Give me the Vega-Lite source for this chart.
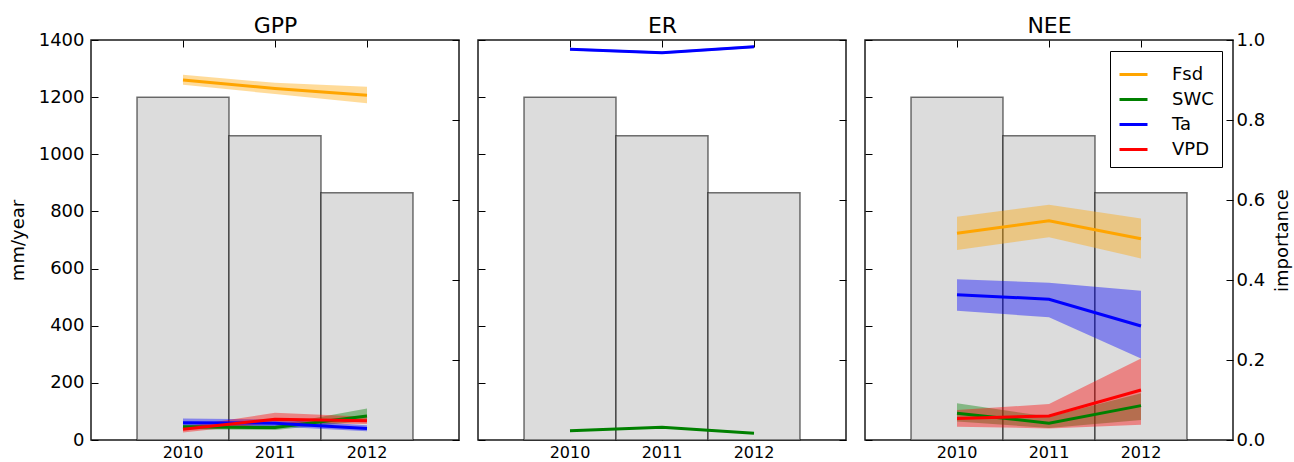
{
  "$schema": "https://vega.github.io/schema/vega-lite/v6.json",
  "padding": {"left": 8, "top": 13, "right": 1, "bottom": 0},
  "config": {
    "font": "DejaVu Sans",
    "view": {"stroke": "#1a1a1a", "strokeWidth": 1.5},
    "axis": {
      "domain": false, "grid": false, "tickSize": -7, "tickColor": "#000", "tickWidth": 1,
      "labelColor": "#000", "titleColor": "#000", "titleFontWeight": "normal",
      "titleFontSize": 18, "labelFontSize": 18
    },
    "axisX": {"labelAngle": 0, "labelFontSize": 16},
    "axisTop": {"titleFontSize": 22, "titlePadding": 7, "titleBaseline": "alphabetic"}
  },
  "datasets": {
    "rain": [
      {"year": 2010, "precip": 1200},
      {"year": 2011, "precip": 1065},
      {"year": 2012, "precip": 865}
    ],
    "imp": [
      {"flux": "GPP", "driver": "Fsd", "year": 2010, "value": 0.900, "lo": 0.888, "hi": 0.913},
      {"flux": "GPP", "driver": "Fsd", "year": 2011, "value": 0.879, "lo": 0.865, "hi": 0.893},
      {"flux": "GPP", "driver": "Fsd", "year": 2012, "value": 0.862, "lo": 0.842, "hi": 0.883},
      {"flux": "GPP", "driver": "SWC", "year": 2010, "value": 0.033, "lo": 0.027, "hi": 0.039},
      {"flux": "GPP", "driver": "SWC", "year": 2011, "value": 0.031, "lo": 0.025, "hi": 0.037},
      {"flux": "GPP", "driver": "SWC", "year": 2012, "value": 0.060, "lo": 0.048, "hi": 0.079},
      {"flux": "GPP", "driver": "Ta", "year": 2010, "value": 0.043, "lo": 0.033, "hi": 0.054},
      {"flux": "GPP", "driver": "Ta", "year": 2011, "value": 0.042, "lo": 0.034, "hi": 0.051},
      {"flux": "GPP", "driver": "Ta", "year": 2012, "value": 0.029, "lo": 0.022, "hi": 0.037},
      {"flux": "GPP", "driver": "VPD", "year": 2010, "value": 0.027, "lo": 0.019, "hi": 0.033},
      {"flux": "GPP", "driver": "VPD", "year": 2011, "value": 0.052, "lo": 0.043, "hi": 0.068},
      {"flux": "GPP", "driver": "VPD", "year": 2012, "value": 0.048, "lo": 0.040, "hi": 0.058},
      {"flux": "ER", "driver": "SWC", "year": 2010, "value": 0.023, "lo": 0.021, "hi": 0.025},
      {"flux": "ER", "driver": "SWC", "year": 2011, "value": 0.032, "lo": 0.030, "hi": 0.034},
      {"flux": "ER", "driver": "SWC", "year": 2012, "value": 0.017, "lo": 0.015, "hi": 0.019},
      {"flux": "ER", "driver": "Ta", "year": 2010, "value": 0.977, "lo": 0.974, "hi": 0.980},
      {"flux": "ER", "driver": "Ta", "year": 2011, "value": 0.968, "lo": 0.965, "hi": 0.971},
      {"flux": "ER", "driver": "Ta", "year": 2012, "value": 0.983, "lo": 0.980, "hi": 0.986},
      {"flux": "NEE", "driver": "Fsd", "year": 2010, "value": 0.517, "lo": 0.475, "hi": 0.558},
      {"flux": "NEE", "driver": "Fsd", "year": 2011, "value": 0.548, "lo": 0.507, "hi": 0.588},
      {"flux": "NEE", "driver": "Fsd", "year": 2012, "value": 0.503, "lo": 0.454, "hi": 0.554},
      {"flux": "NEE", "driver": "SWC", "year": 2010, "value": 0.067, "lo": 0.046, "hi": 0.092},
      {"flux": "NEE", "driver": "SWC", "year": 2011, "value": 0.042, "lo": 0.030, "hi": 0.058},
      {"flux": "NEE", "driver": "SWC", "year": 2012, "value": 0.086, "lo": 0.050, "hi": 0.117},
      {"flux": "NEE", "driver": "Ta", "year": 2010, "value": 0.363, "lo": 0.323, "hi": 0.402},
      {"flux": "NEE", "driver": "Ta", "year": 2011, "value": 0.352, "lo": 0.307, "hi": 0.393},
      {"flux": "NEE", "driver": "Ta", "year": 2012, "value": 0.285, "lo": 0.204, "hi": 0.373},
      {"flux": "NEE", "driver": "VPD", "year": 2010, "value": 0.054, "lo": 0.033, "hi": 0.075},
      {"flux": "NEE", "driver": "VPD", "year": 2011, "value": 0.060, "lo": 0.029, "hi": 0.090},
      {"flux": "NEE", "driver": "VPD", "year": 2012, "value": 0.125, "lo": 0.038, "hi": 0.204}
    ]
  },
  "spacing": 15,
  "resolve": {"scale": {"color": "independent", "fill": "independent"}, "legend": {"color": "independent", "fill": "independent"}},
  "hconcat": [
    {
      "width": 368,
      "height": 400,
      "layer": [
        {
          "data": {"name": "rain"},
          "mark": {"type": "bar", "fill": "#dcdcdc", "stroke": "#000", "strokeOpacity": 0.55, "strokeWidth": 1.5},
          "encoding": {
            "x": {"field": "year", "type": "ordinal", "scale": {"type": "band", "paddingInner": 0, "paddingOuter": 0.5}, "axis": {"orient": "bottom", "title": null, "labelPadding": 11}},
            "y": {"field": "precip", "type": "quantitative", "scale": {"domain": [0, 1400]}, "axis": {"orient": "left", "title": "mm/year", "values": [0, 200, 400, 600, 800, 1000, 1200, 1400], "format": "d", "labelPadding": 14, "titlePadding": 11}}
          }
        },
        {
          "data": {"name": "imp"},
          "transform": [{"filter": "datum.flux === 'GPP'"}],
          "mark": {"type": "area", "fillOpacity": 0.4},
          "encoding": {
            "x": {"field": "year", "type": "ordinal", "scale": {"type": "band", "paddingInner": 0, "paddingOuter": 0.5}, "axis": {"orient": "top", "title": "GPP", "labels": false}},
            "y": {"field": "lo", "type": "quantitative", "scale": {"domain": [0, 1]}, "axis": {"orient": "right", "title": null, "labels": false, "values": [0, 0.2, 0.4, 0.6, 0.8, 1.0]}},
            "y2": {"field": "hi"},
            "fill": {"field": "driver", "type": "nominal", "scale": {"domain": ["Fsd", "SWC", "Ta", "VPD"], "range": ["#FFA500", "#008000", "#0000FF", "#FF0000"]}, "legend": null}
          }
        },
        {
          "data": {"name": "imp"},
          "transform": [{"filter": "datum.flux === 'GPP'"}],
          "mark": {"type": "line", "strokeWidth": 3},
          "encoding": {
            "x": {"field": "year", "type": "ordinal", "scale": {"type": "band", "paddingInner": 0, "paddingOuter": 0.5}, "axis": null},
            "y": {"field": "value", "type": "quantitative", "scale": {"domain": [0, 1]}, "axis": null},
            "color": {"field": "driver", "type": "nominal", "scale": {"domain": ["Fsd", "SWC", "Ta", "VPD"], "range": ["#FFA500", "#008000", "#0000FF", "#FF0000"]}, "legend": null}
          }
        }
      ],
      "resolve": {"scale": {"y": "independent"}, "axis": {"x": "independent", "y": "independent"}}
    },
    {
      "width": 368,
      "height": 400,
      "layer": [
        {
          "data": {"name": "rain"},
          "mark": {"type": "bar", "fill": "#dcdcdc", "stroke": "#000", "strokeOpacity": 0.55, "strokeWidth": 1.5},
          "encoding": {
            "x": {"field": "year", "type": "ordinal", "scale": {"type": "band", "paddingInner": 0, "paddingOuter": 0.5}, "axis": {"orient": "bottom", "title": null, "labelPadding": 11}},
            "y": {"field": "precip", "type": "quantitative", "scale": {"domain": [0, 1400]}, "axis": {"orient": "left", "title": null, "labels": false, "values": [0, 200, 400, 600, 800, 1000, 1200, 1400]}}
          }
        },
        {
          "data": {"name": "imp"},
          "transform": [{"filter": "datum.flux === 'ER'"}],
          "mark": {"type": "area", "fillOpacity": 0.4},
          "encoding": {
            "x": {"field": "year", "type": "ordinal", "scale": {"type": "band", "paddingInner": 0, "paddingOuter": 0.5}, "axis": {"orient": "top", "title": "ER", "labels": false}},
            "y": {"field": "lo", "type": "quantitative", "scale": {"domain": [0, 1]}, "axis": {"orient": "right", "title": null, "labels": false, "values": [0, 0.2, 0.4, 0.6, 0.8, 1.0]}},
            "y2": {"field": "hi"},
            "fill": {"field": "driver", "type": "nominal", "scale": {"domain": ["Fsd", "SWC", "Ta", "VPD"], "range": ["#FFA500", "#008000", "#0000FF", "#FF0000"]}, "legend": null}
          }
        },
        {
          "data": {"name": "imp"},
          "transform": [{"filter": "datum.flux === 'ER'"}],
          "mark": {"type": "line", "strokeWidth": 3},
          "encoding": {
            "x": {"field": "year", "type": "ordinal", "scale": {"type": "band", "paddingInner": 0, "paddingOuter": 0.5}, "axis": null},
            "y": {"field": "value", "type": "quantitative", "scale": {"domain": [0, 1]}, "axis": null},
            "color": {"field": "driver", "type": "nominal", "scale": {"domain": ["Fsd", "SWC", "Ta", "VPD"], "range": ["#FFA500", "#008000", "#0000FF", "#FF0000"]}, "legend": null}
          }
        }
      ],
      "resolve": {"scale": {"y": "independent"}, "axis": {"x": "independent", "y": "independent"}}
    },
    {
      "width": 368,
      "height": 400,
      "layer": [
        {
          "data": {"name": "rain"},
          "mark": {"type": "bar", "fill": "#dcdcdc", "stroke": "#000", "strokeOpacity": 0.55, "strokeWidth": 1.5},
          "encoding": {
            "x": {"field": "year", "type": "ordinal", "scale": {"type": "band", "paddingInner": 0, "paddingOuter": 0.5}, "axis": {"orient": "bottom", "title": null, "labelPadding": 11}},
            "y": {"field": "precip", "type": "quantitative", "scale": {"domain": [0, 1400]}, "axis": {"orient": "left", "title": null, "labels": false, "values": [0, 200, 400, 600, 800, 1000, 1200, 1400]}}
          }
        },
        {
          "data": {"name": "imp"},
          "transform": [{"filter": "datum.flux === 'NEE'"}],
          "mark": {"type": "area", "fillOpacity": 0.4},
          "encoding": {
            "x": {"field": "year", "type": "ordinal", "scale": {"type": "band", "paddingInner": 0, "paddingOuter": 0.5}, "axis": {"orient": "top", "title": "NEE", "labels": false}},
            "y": {"field": "lo", "type": "quantitative", "scale": {"domain": [0, 1]}, "axis": {"orient": "right", "title": "importance", "titleAngle": 270, "titleBaseline": "bottom", "values": [0, 0.2, 0.4, 0.6, 0.8, 1.0], "format": ".1f", "labelPadding": 10, "titlePadding": 27}},
            "y2": {"field": "hi"},
            "fill": {"field": "driver", "type": "nominal", "scale": {"domain": ["Fsd", "SWC", "Ta", "VPD"], "range": ["#FFA500", "#008000", "#0000FF", "#FF0000"]}}
          }
        },
        {
          "data": {"name": "imp"},
          "transform": [{"filter": "datum.flux === 'NEE'"}],
          "mark": {"type": "line", "strokeWidth": 3},
          "encoding": {
            "x": {"field": "year", "type": "ordinal", "scale": {"type": "band", "paddingInner": 0, "paddingOuter": 0.5}, "axis": null},
            "y": {"field": "value", "type": "quantitative", "scale": {"domain": [0, 1]}, "axis": null},
            "color": {
              "field": "driver", "type": "nominal",
              "scale": {"domain": ["Fsd", "SWC", "Ta", "VPD"], "range": ["#FFA500", "#008000", "#0000FF", "#FF0000"]},
              "legend": {
                "title": null, "orient": "top-right", "offset": 11,
                "strokeColor": "#000", "fillColor": "#fff", "padding": 8,
                "symbolType": "stroke", "symbolSize": 784, "symbolStrokeWidth": 3, "symbolOpacity": 1,
                "labelFontSize": 18, "labelColor": "#000", "rowPadding": 0, "labelOffset": 23
              }
            }
          }
        }
      ],
      "resolve": {"scale": {"y": "independent"}, "axis": {"x": "independent", "y": "independent"}}
    }
  ]
}
